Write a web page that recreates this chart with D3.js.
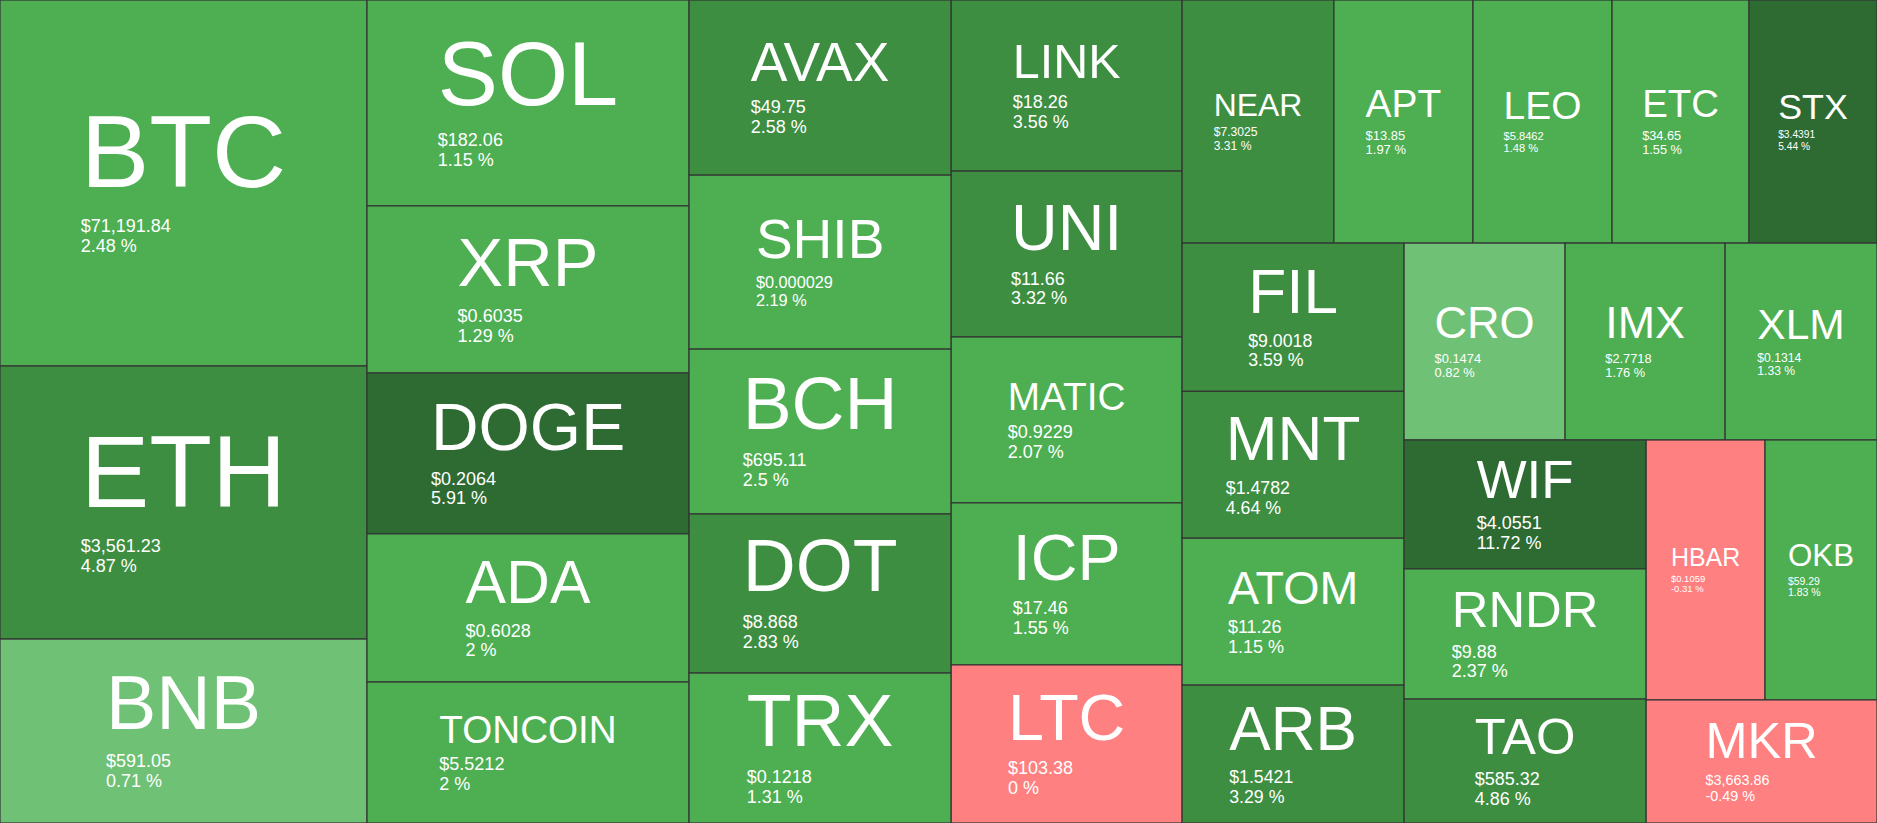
<!DOCTYPE html>
<html>
<head>
<meta charset="utf-8">
<script src="https://cdn.jsdelivr.net/npm/d3@7"></script>
<style>
html, body { margin: 0; padding: 0; background: #fff; overflow: hidden; }
svg { display: block; }
text { font-family: "Liberation Sans", Arial, Helvetica, sans-serif; fill: #fff; }
</style>
</head>
<body>
<svg id="chart" width="1877" height="823"></svg>
<script>
// coins in treemap order
const symbols = ["BTC", "ETH", "BNB", "SOL", "XRP", "DOGE", "ADA", "TONCOIN", "AVAX", "SHIB", "BCH", "DOT", "TRX",
    "LINK", "UNI", "MATIC", "ICP", "LTC", "NEAR", "APT", "LEO", "ETC", "STX", "FIL", "MNT", "ATOM", "ARB",
    "CRO", "IMX", "XLM", "WIF", "RNDR", "TAO", "HBAR", "OKB", "MKR"];
const prices = [71191.84, 3561.23, 591.05, 182.06, 0.6035, 0.2064, 0.6028, 5.5212, 49.75, 0.000029, 695.11, 8.868, 0.1218,
    18.26, 11.66, 0.9229, 17.46, 103.38, 7.3025, 13.85, 5.8462, 34.65, 3.4391, 9.0018, 1.4782, 11.26, 1.5421,
    0.1474, 2.7718, 0.1314, 4.0551, 9.88, 585.32, 0.1059, 59.29, 3663.86];
const changes = [2.48, 4.87, 0.71, 1.15, 1.29, 5.91, 2, 2, 2.58, 2.19, 2.5, 2.83, 1.31,
    3.56, 3.32, 2.07, 1.55, 0, 3.31, 1.97, 1.48, 1.55, 5.44, 3.59, 4.64, 1.15, 3.29,
    0.82, 1.76, 1.33, 11.72, 2.37, 4.86, -0.31, 1.83, -0.49];
// relative tile weights
const weights = [134.3, 100.2, 67.5, 66.3, 53.8, 51.8, 47.7, 45.4, 45.9, 45.6, 43.2, 41.7, 39.3,
    39.5, 38.3, 38.3, 37.4, 36.5, 36.9, 33.8, 33.8, 33.3, 31.1, 32.9, 32.6, 32.6, 30.6,
    31.7, 31.5, 29.9, 31.2, 31.5, 30.0, 30.9, 29.1, 28.4];

const width = 1877, height = 823;

const color = d3.scaleThreshold()
    .domain([0.01, 1, 2.55, 5])
    .range(["#ff8080", "#6fc175", "#4daf52", "#3d8e41", "#2e6b32"]);

const fmtPrice = d3.format("$,");
const fmtPct = v => String(v) + " %";

const coins = symbols.map((s, i) => ({ symbol: s, price: prices[i], change: changes[i], weight: weights[i] }));
const root = d3.hierarchy({ children: coins }).sum(d => d.weight || 0);
d3.treemap().size([width, height]).tile(d3.treemapSquarify)(root);

const svg = d3.select("#chart");

const cell = svg.selectAll("g")
    .data(root.leaves())
    .join("g")
    .attr("transform", d => `translate(${d.x0},${d.y0})`);

cell.append("rect")
    .attr("width", d => d.x1 - d.x0)
    .attr("height", d => d.y1 - d.y0)
    .attr("fill", d => color(d.data.change))
    .attr("stroke", "#333")
    .attr("stroke-width", 1.2);

function symbolSize(w, h, len) {
    // fit to width; flat wide tiles are capped by their height
    const byWidth = 0.84 * w / len;
    const byHeight = (w / h > 1.8 ? 0.41 : 0.5) * h;
    return Math.min(byWidth, byHeight);
}

cell.each(function(d) {
    const g = d3.select(this);
    const w = d.x1 - d.x0, h = d.y1 - d.y0;
    const priceStr = fmtPrice(d.data.price), pctStr = fmtPct(d.data.change);
    const sym = symbolSize(w, h, d.data.symbol.length);
    const pf = Math.min(18, 0.56 * w / Math.max(priceStr.length, pctStr.length));

    // centre the inked block (cap top of symbol to baseline of %)
    const gap1 = 0.27 * sym + 0.95 * pf, gap2 = 1.1 * pf;
    const inkH = 0.716 * sym + gap1 + gap2;
    const yS = h / 2 - inkH / 2 + 0.716 * sym;

    const t1 = g.append("text").attr("y", yS).style("font-size", sym + "px").text(d.data.symbol);
    const t2 = g.append("text").attr("y", yS + gap1).style("font-size", pf + "px").text(priceStr);
    const t3 = g.append("text").attr("y", yS + gap1 + gap2).style("font-size", pf + "px").text(pctStr);
    const bw = Math.max(t1.node().getComputedTextLength(), t2.node().getComputedTextLength(), t3.node().getComputedTextLength());
    g.selectAll("text").attr("x", w / 2 - bw / 2);
});
</script>
</body>
</html>
